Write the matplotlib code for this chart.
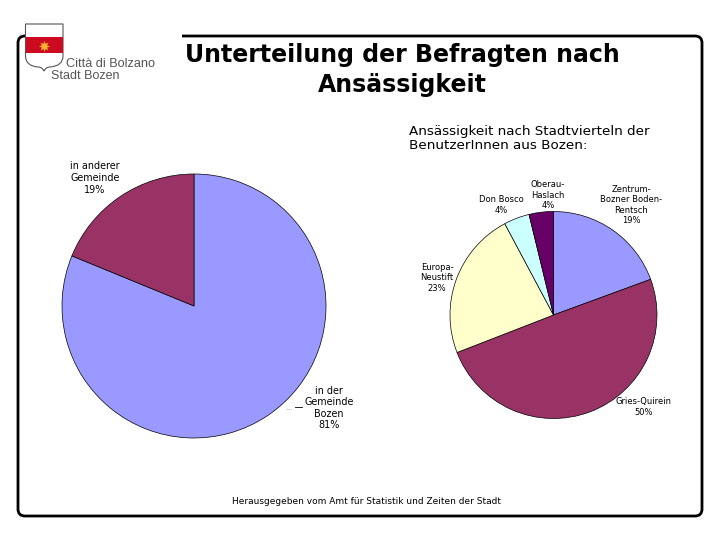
import matplotlib
matplotlib.use("Agg")
import matplotlib.pyplot as plt
from matplotlib.patches import FancyBboxPatch, Rectangle, PathPatch
from matplotlib.path import Path

W, H = 720, 540
left_labels = ["in der\nGemeinde\nBozen\n81%", "in anderer\nGemeinde\n19%"]
left_values = [81.2, 18.8]
left_colors = ["#9999FF", "#993366"]
right_labels = ["Zentrum-\nBozner Boden-\nRentsch\n19%", "Gries-Quirein\n50%", "Europa-\nNeustift\n23%", "Don Bosco\n4%", "Oberau-\nHaslach\n4%"]
right_values = [19.4, 49.7, 23.1, 4.0, 3.8]
right_colors = ["#9999FF", "#993366", "#FFFFCC", "#CCFFFF", "#660066"]
title = "Unterteilung der Befragten nach\nAnsässigkeit"
subtitle = "Ansässigkeit nach Stadtvierteln der\nBenutzerInnen aus Bozen:"
footer = "Herausgegeben vom Amt für Statistik und Zeiten der Stadt"

fig = plt.figure(figsize=(7.2, 5.4), dpi=100, facecolor="white")
bg = fig.add_axes([0, 0, 1, 1])
bg.set_xlim(0, W); bg.set_ylim(H, 0); bg.axis("off")
bg.add_patch(FancyBboxPatch((24, 42), 672, 468, boxstyle="round,pad=6,rounding_size=7",
                            fc="white", ec="black", lw=2))
bg.add_patch(Rectangle((28, 30), 154, 14, fc="white", ec="none", zorder=2))
# logo
shield = Path([(25.5, 24), (63, 24), (63, 56), (63, 66), (50, 67), (46, 67), (44, 71),
               (42, 67), (38, 67), (25.5, 66), (25.5, 56), (25.5, 24)],
              [Path.MOVETO, Path.LINETO, Path.LINETO, Path.CURVE3, Path.CURVE3, Path.CURVE3,
               Path.CURVE3, Path.CURVE3, Path.CURVE3, Path.CURVE3, Path.CURVE3, Path.CLOSEPOLY])
bg.add_patch(PathPatch(shield, fc="white", ec="#555555", lw=0.8, zorder=3))
bg.add_patch(Rectangle((25.5, 37), 37.5, 16, fc="#CC0A20", ec="none", zorder=4))
bg.plot([44], [45.5], marker=(8, 1), ms=8, color="#F5B52E", mec="none", zorder=5)
bg.text(66, 64, "Città di Bolzano", fontsize=9.2, family="Liberation Sans", color="#555555", va="center", ha="left", zorder=5)
bg.text(51, 76, "Stadt Bozen", fontsize=9, family="Liberation Sans", color="#555555", va="center", ha="left", zorder=5)

bg.text(402, 70, title, fontsize=17, fontweight="bold", ha="center", va="center", linespacing=1.3, color="black")
bg.text(409, 138.5, subtitle, fontsize=9.7, ha="left", va="center", linespacing=1.12, color="black")
bg.text(366, 502, footer, fontsize=6.5, ha="center", va="center", color="black")


def pie_axes(cx, cy, r):
    ax = fig.add_axes([(cx - r) / W, 1 - (cy + r) / H, 2 * r / W, 2 * r / H])
    ax.set_zorder(1)
    ax.patch.set_alpha(0)
    return ax


ax1 = pie_axes(194, 306, 132)
ax1.pie(left_values, colors=left_colors, startangle=90, counterclock=False, radius=1,
        wedgeprops=dict(edgecolor="black", linewidth=0.5))
ax1.set_xlim(-1, 1); ax1.set_ylim(-1, 1)

ax2 = pie_axes(553.5, 315, 103.5)
ax2.pie(right_values, colors=right_colors, startangle=90, counterclock=False, radius=1,
        wedgeprops=dict(edgecolor="black", linewidth=0.5))
ax2.set_xlim(-1, 1); ax2.set_ylim(-1, 1)

lab = fig.add_axes([0, 0, 1, 1])
lab.set_xlim(0, W); lab.set_ylim(H, 0); lab.axis("off"); lab.set_zorder(3); lab.patch.set_alpha(0)
left_pos = [(329, 408), (95, 178)]
right_pos = [(631, 205), (644, 407), (437, 278), (501, 205), (548, 195)]
for s, (x, y) in zip(left_labels, left_pos):
    lab.text(x, y, s, fontsize=6.9, ha="center", va="center", linespacing=1.2)
for s, (x, y) in zip(right_labels, right_pos):
    lab.text(x, y, s, fontsize=6, ha="center", va="center", linespacing=1.15)
lab.plot([287, 291], [409, 409], color="#555555", lw=0.5, ls=":")
lab.plot([295, 302], [407, 407], color="black", lw=0.6)

fig.savefig("out.png", dpi=100)
